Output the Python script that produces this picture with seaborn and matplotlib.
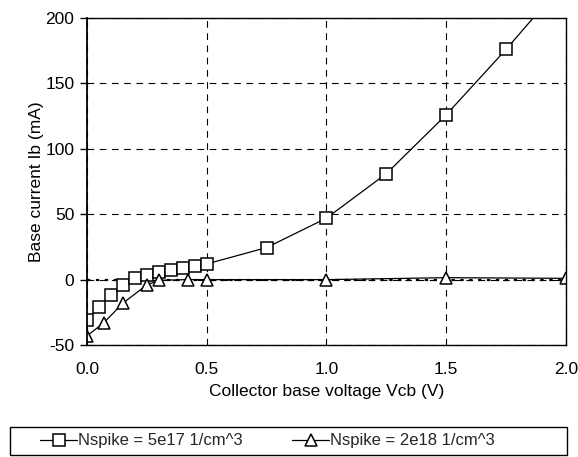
import matplotlib
matplotlib.use("Agg")
import matplotlib.pyplot as plt
from matplotlib.patches import Rectangle
import seaborn as sns
import pandas as pd
import numpy as np

sns.set_theme(style="white")
plt.rcParams['font.family'] = ['Liberation Sans', 'DejaVu Sans']
plt.rcParams['axes.unicode_minus'] = False

vcb_a = [0.0, 0.05, 0.1, 0.15, 0.2, 0.25, 0.3, 0.35, 0.4, 0.45, 0.5, 0.75, 1.0, 1.25, 1.5, 1.75, 2.0]
ib_a = [-31, -21, -12, -4, 1.3, 3.3, 6, 7.6, 9, 10.7, 12, 24.5, 47, 81, 126, 176, 229]
vcb_b = [0.0, 0.07, 0.15, 0.25, 0.3, 0.42, 0.5, 1.0, 1.5, 2.0]
ib_b = [-43, -33, -18, -4, -0.5, 0, 0, 0, 1.5, 1]
label_a = "Nspike = 5e17 1/cm^3"
label_b = "Nspike = 2e18 1/cm^3"

df = pd.concat([
    pd.DataFrame({"Vcb": vcb_a, "Ib": ib_a, "series": label_a}),
    pd.DataFrame({"Vcb": vcb_b, "Ib": ib_b, "series": label_b}),
])

FS = 12.5
fig = plt.figure(figsize=(5.78, 4.57), dpi=100)
ax = fig.add_axes([0.1505, 0.245, 0.8285, 0.7155])

sns.lineplot(data=df, x="Vcb", y="Ib", hue="series", style="series",
             markers={label_a: "s", label_b: "^"}, dashes=False,
             palette={label_a: "black", label_b: "black"},
             markersize=8, markerfacecolor="white", markeredgecolor="black",
             markeredgewidth=1.1, linewidth=0.9, sort=False, ax=ax, legend=True)

ax.set_xlim(0, 2.0)
ax.set_ylim(-50, 200)
ax.set_xticks([0, 0.5, 1.0, 1.5, 2.0])
ax.set_xticklabels(["0.0", "0.5", "1.0", "1.5", "2.0"])
ax.set_yticks([-50, 0, 50, 100, 150, 200])
ax.grid(True, color="black", linestyle=(0, (6, 5)), linewidth=0.8)
ax.axhline(0, color="black", linestyle=(0, (1.5, 2.5)), linewidth=1.6, zorder=1)
for s in ax.spines.values():
    s.set_color("black")
    s.set_linewidth(1.0)
ax.spines['left'].set_linewidth(1.3)
ax.tick_params(axis='y', left=True, length=5, width=1, labelsize=FS, color="black", labelcolor="black", pad=4)
ax.tick_params(axis='x', bottom=False, labelsize=FS, labelcolor="black", pad=6)
ax.set_xlabel("Collector base voltage Vcb (V)", fontsize=FS, color="black", labelpad=5)
ax.set_ylabel("Base current Ib (mA)", fontsize=FS, color="black", labelpad=1)

handles, labels = ax.get_legend_handles_labels()
ax.get_legend().remove()
for h in handles:
    h.set_markerfacecolor("white")
    h.set_markeredgecolor("black")
fig.patches.append(Rectangle((10 / 578, 2 / 457), 557 / 578, 28 / 457,
                             transform=fig.transFigure, facecolor="none",
                             edgecolor="black", linewidth=1.0))
fig.legend(handles, labels, loc="center", ncol=2,
           bbox_to_anchor=(267.5 / 578, 16 / 457), frameon=False, fontsize=12,
           handlelength=2.2, borderaxespad=0, borderpad=0.2,
           handletextpad=0.05, columnspacing=3.0)

fig.savefig("out.png", dpi=100)
